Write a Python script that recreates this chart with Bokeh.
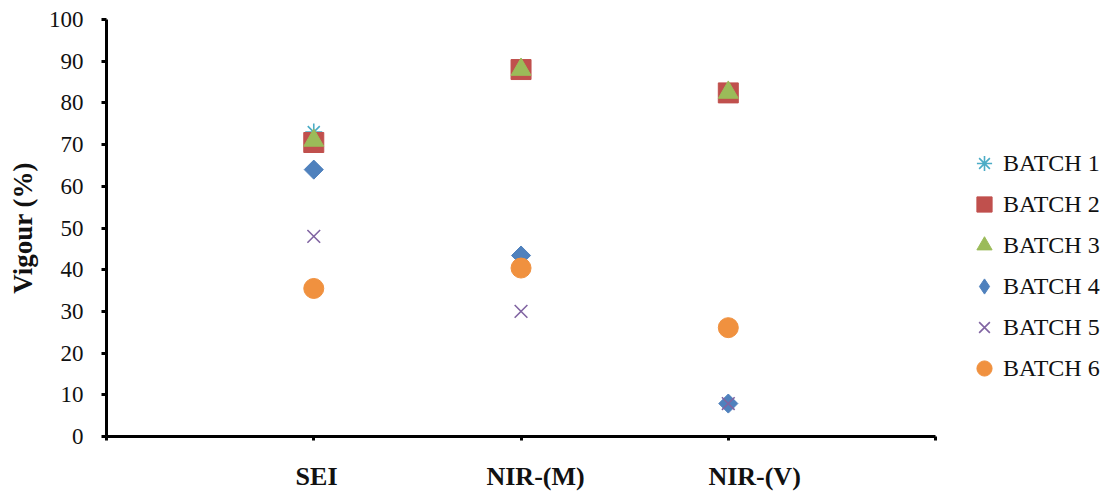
import math
from bokeh.plotting import figure
from bokeh.models import Range1d, FixedTicker, Legend, LegendItem, ColumnDataSource, LinearAxis
from bokeh.embed import file_html
from bokeh.resources import INLINE

categories = ["SEI", "NIR-(M)", "NIR-(V)"]
batch1 = [73, 88, 82.5]
batch2 = [70.5, 88, 82.4]
batch3 = [71, 88, 82.5]
batch4 = [64, 43.4, 7.9]
batch5 = [48, 30, 7.9]
batch6 = [35.5, 40.4, 26.1]
y_ticks = [0, 10, 20, 30, 40, 50, 60, 70, 80, 90, 100]

# name, values, marker, legend marker, colour, size, angle
series = [
    ("BATCH 1", batch1, "asterisk", "asterisk", "#4BACC6", 17, 0),
    ("BATCH 2", batch2, "square", "square", "#C0504D", 20, 0),
    ("BATCH 3", batch3, "triangle", "triangle", "#9BBB59", 20, 0),
    ("BATCH 4", batch4, "square", "diamond", "#4F81BD", 13.5, math.pi / 4),
    ("BATCH 5", batch5, "x", "x", "#8064A2", 18, 0),
    ("BATCH 6", batch6, "circle", "circle", "#F0913F", 20, 0),
]

FONT = "Liberation Serif"
TXT = "#111111"

# frame spans to the right edge; the x axis is bounded to 0..4 (plot area) and
# the legend sits in the remaining space on the right
X_END = 4.844
p = figure(width=1110, height=493, output_backend="svg", toolbar_location=None,
           x_range=Range1d(0, X_END), y_range=Range1d(0, 100),
           min_border_left=106, min_border_right=0, min_border_top=19, min_border_bottom=57)
p.outline_line_color = None
p.grid.grid_line_color = None
p.background_fill_color = "white"
p.border_fill_color = "white"
# range used only to place the category labels the way the reference renders them
p.extra_x_ranges = {"labels": Range1d(0.041, 4.625)}

xs = [i + 1 for i in range(len(categories))]
items = []
for name, vals, marker, lmarker, color, size, ang in series:
    src = ColumnDataSource(dict(x=xs, y=vals))
    line_only = marker in ("asterisk", "x")
    kw = dict(line_color=color, line_width=1.6) if line_only else \
        dict(fill_color=color, line_color=color, line_width=1)
    leg_r = None
    if lmarker != marker:
        # zero-size twin (hidden under the real marker) giving the legend its diamond glyph
        leg_r = p.scatter("x", "y", source=src, marker=lmarker, size=0, **kw)
    r = p.scatter("x", "y", source=src, marker=marker, size=size, angle=ang, **kw)
    items.append(LegendItem(label=name, renderers=[leg_r or r]))

legend = Legend(items=items, location=(859, 49), label_text_font=FONT,
                label_text_font_size="24px", label_text_color=TXT,
                spacing=3, glyph_width=38, glyph_height=38, label_standoff=0,
                label_height=38,
                border_line_color=None, background_fill_alpha=0, padding=0, margin=0)
p.add_layout(legend, "center")

# x axis: line and ticks
p.xaxis.bounds = (0, 4)
p.xaxis.ticker = FixedTicker(ticks=[0, 1, 2, 3, 4])
p.xaxis.major_label_overrides = {0: "", 1: "", 2: "", 3: "", 4: ""}
p.xaxis.major_label_standoff = 0
p.xaxis.axis_line_width = 3
p.xaxis.major_tick_line_width = 3
p.xaxis.major_tick_in = 0
p.xaxis.major_tick_out = 4
p.xaxis.minor_tick_line_color = None

# category labels
lab_axis = LinearAxis(x_range_name="labels", ticker=FixedTicker(ticks=xs),
                      major_label_overrides={xs[i]: c for i, c in enumerate(categories)},
                      axis_line_color=None, major_tick_line_color=None,
                      minor_tick_line_color=None, major_tick_out=0, major_tick_in=0,
                      major_label_standoff=21,
                      major_label_text_font=FONT, major_label_text_font_size="26px",
                      major_label_text_font_style="bold", major_label_text_color=TXT)
p.add_layout(lab_axis, "below")

# y axis
p.yaxis.ticker = FixedTicker(ticks=y_ticks)
p.yaxis.major_label_text_font = FONT
p.yaxis.major_label_text_font_size = "23px"
p.yaxis.major_label_text_color = TXT
p.yaxis.major_label_standoff = 18
p.yaxis.axis_line_width = 3
p.yaxis.major_tick_line_width = 3
p.yaxis.major_tick_in = 0
p.yaxis.major_tick_out = 5
p.yaxis.minor_tick_line_color = None
p.yaxis.axis_label = "Vigour (%)"
p.yaxis.axis_label_text_font = FONT
p.yaxis.axis_label_text_font_size = "27px"
p.yaxis.axis_label_text_font_style = "bold"
p.yaxis.axis_label_text_color = TXT
p.yaxis.axis_label_standoff = 8

open("out.html", "w").write(file_html(p, INLINE))
